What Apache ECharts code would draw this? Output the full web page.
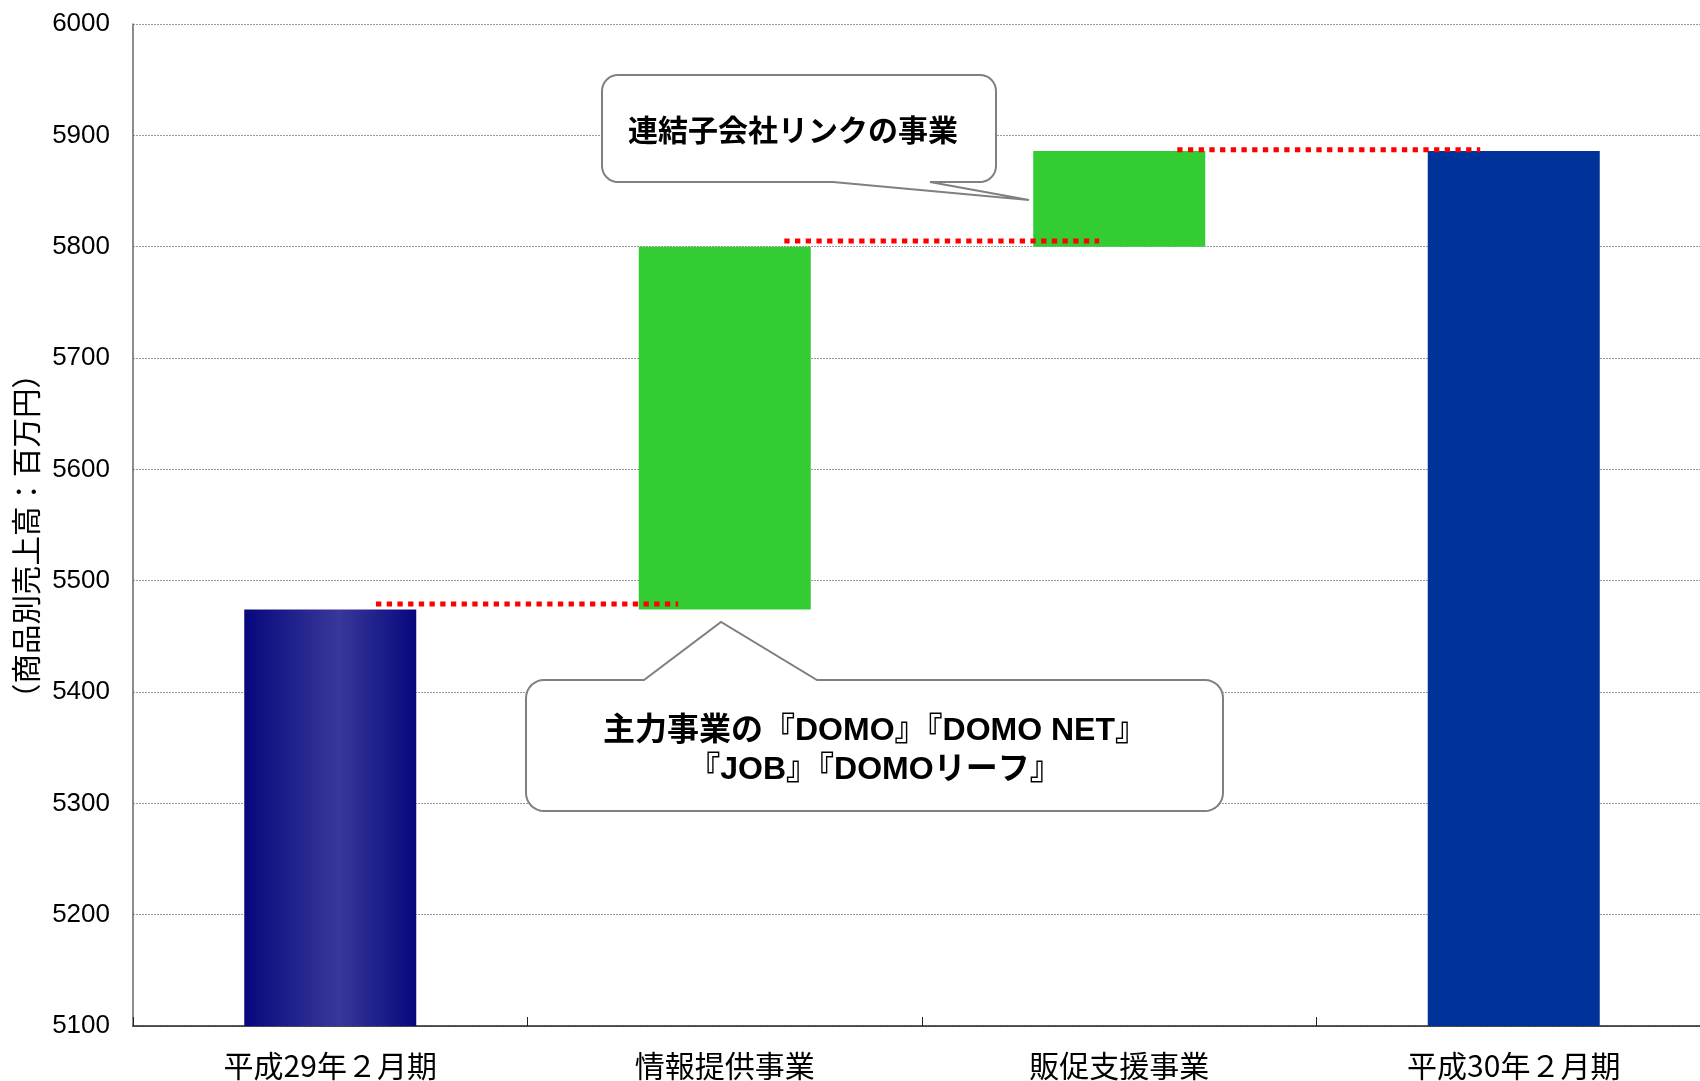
<!DOCTYPE html>
<html>
<head>
<meta charset="utf-8">
<script src="https://cdn.jsdelivr.net/npm/echarts@6/dist/echarts.min.js"></script>
<style>
html,body{margin:0;padding:0;background:#fff;}
#chart{width:1700px;height:1081px;}
</style>
</head>
<body>
<div id="chart"></div>
<script>
// ---------------- data ----------------
const categories = ['平成29年２月期', '情報提供事業', '販促支援事業', '平成30年２月期'];
// first and last are totals, middle ones are increments
const barValues = [5474, 326, 86, 5886];
const barKinds = ['total', 'increase', 'increase', 'total'];
// levels of the red dotted connector lines (between neighbouring bars)
const connectorLevels = [5479, 5805, 5887];
const yMin = 5100;
const yMax = 6000;
const yInterval = 100;
const yAxisName = '（商品別売上高：百万円）';
const callout1Text = '連結子会社リンクの事業';
const callout2Lines = ['主力事業の『DOMO』『DOMO NET』', '『JOB』『DOMOリーフ』'];

// ---------------- styles ----------------
const FONT = "'Noto Sans CJK JP', 'Noto Sans', sans-serif";
const FONT_LATIN = "'Liberation Sans', 'Noto Sans CJK JP', sans-serif";
const gradientNavy = new echarts.graphic.LinearGradient(0, 0, 1, 0, [
  {offset: 0, color: '#08087e'},
  {offset: 0.55, color: '#38389a'},
  {offset: 1, color: '#08087e'}
]);
const BAR_COLORS = [gradientNavy, '#33cc33', '#33cc33', '#003399'];
// connector extents as offsets from the left bar centre / right bar centre (in category units)
const CONNECTOR_SPAN = [[0.116, -0.118], [0.151, -0.051], [0.147, -0.085]];

// ---------------- build waterfall ----------------
const helper = [];
const visible = [];
let running = 0;
barValues.forEach((v, i) => {
  if (barKinds[i] === 'total') {
    helper.push(0);
    running = v;
  } else {
    helper.push(running);
    running += v;
  }
  visible.push({value: v, itemStyle: {color: BAR_COLORS[i]}});
});

const connectorSeries = connectorLevels.map((lvl, i) => ({
  type: 'line',
  xAxisIndex: 1,
  yAxisIndex: 0,
  data: [[i + 0.5 + CONNECTOR_SPAN[i][0], lvl], [i + 1.5 + CONNECTOR_SPAN[i][1], lvl]],
  showSymbol: false,
  symbol: 'none',
  silent: true,
  z: 5,
  lineStyle: {color: '#ff0000', width: 5, type: [5.3, 5.4], cap: 'butt'}
}));

function calloutPoly(x0, y0, x1, y1, r, tail) {
  const pts = [];
  const arc = (cx, cy, s, e) => {
    for (let k = 0; k <= 8; k++) {
      const t = s + (e - s) * k / 8;
      pts.push([cx + r * Math.cos(t), cy + r * Math.sin(t)]);
    }
  };
  arc(x0 + r, y0 + r, Math.PI, 1.5 * Math.PI);
  if (tail.edge === 'top') pts.push([tail.a, y0], [tail.tx, tail.ty], [tail.b, y0]);
  arc(x1 - r, y0 + r, 1.5 * Math.PI, 2 * Math.PI);
  arc(x1 - r, y1 - r, 0, 0.5 * Math.PI);
  if (tail.edge === 'bottom') pts.push([tail.b, y1], [tail.tx, tail.ty], [tail.a, y1]);
  arc(x0 + r, y1 - r, 0.5 * Math.PI, Math.PI);
  return pts;
}

const chart = echarts.init(document.getElementById('chart'), null, {renderer: 'canvas'});
chart.setOption({
  backgroundColor: '#ffffff',
  animation: false,
  grid: {left: 133, right: -11, top: 24, bottom: 55, containLabel: false, outerBoundsMode: 'none'},
  xAxis: [{
    type: 'category',
    data: categories,
    boundaryGap: true,
    axisLine: {show: true, lineStyle: {color: '#222', width: 1.5}},
    axisTick: {show: true, inside: true, length: 9, lineStyle: {color: '#222', width: 1}},
    axisLabel: {color: '#000', fontSize: 30, fontFamily: FONT, margin: 25},
    splitLine: {show: false}
  }, {
    type: 'value',
    min: 0,
    max: 4,
    show: false
  }],
  yAxis: {
    type: 'value',
    min: yMin,
    max: yMax,
    interval: yInterval,
    name: yAxisName,
    nameLocation: 'middle',
    nameRotate: 90,
    nameGap: 92,
    nameTextStyle: {color: '#000', fontSize: 29.5, fontFamily: FONT, padding: [0, 22, 0, 0]},
    axisLine: {show: true, lineStyle: {color: '#666', width: 1.5}},
    axisTick: {show: false},
    axisLabel: {color: '#000', fontSize: 26, fontFamily: FONT_LATIN, margin: 23, padding: [6, 0, 0, 0], formatter: v => String(v)},
    splitLine: {show: true, lineStyle: {color: '#999', width: 1, type: [2, 1]}}
  },
  series: [{
    type: 'bar',
    stack: 'wf',
    data: helper,
    barWidth: 172,
    silent: true,
    itemStyle: {color: 'rgba(0,0,0,0)'},
    z: 2
  }, {
    type: 'bar',
    stack: 'wf',
    data: visible,
    barWidth: 172,
    z: 2
  }].concat(connectorSeries),
  graphic: [
    {
      type: 'polygon',
      z: 100,
      shape: {points: calloutPoly(602, 75, 996, 182, 16, {edge: 'bottom', a: 833, b: 930, tx: 1029, ty: 200})},
      style: {fill: '#fff', stroke: '#808080', lineWidth: 2}
    },
    {
      type: 'text',
      z: 101,
      x: 628,
      y: 130,
      style: {text: callout1Text, fill: '#000', font: 'bold 30px ' + FONT, textAlign: 'left', textVerticalAlign: 'middle'}
    },
    {
      type: 'polygon',
      z: 100,
      shape: {points: calloutPoly(526, 680, 1223, 811, 18, {edge: 'top', a: 644, b: 817, tx: 721, ty: 622})},
      style: {fill: '#fff', stroke: '#808080', lineWidth: 2}
    },
    {
      type: 'text',
      z: 101,
      x: 875,
      y: 751,
      style: {text: callout2Lines.join('\n'), fill: '#000', font: 'bold 32px ' + FONT_LATIN, textAlign: 'center', textVerticalAlign: 'middle', lineHeight: 39}
    }
  ]
});
</script>
</body>
</html>
